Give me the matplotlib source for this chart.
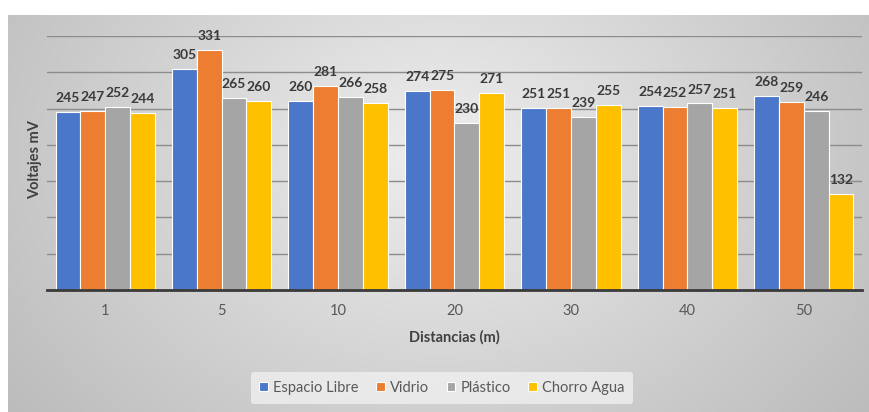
import matplotlib
matplotlib.use("Agg")
import matplotlib.pyplot as plt
import numpy as np

# ── Data ──────────────────────────────────────────────────────────────────────

distancias = ["1", "5", "10", "20", "30", "40", "50"]
series = ["Espacio Libre", "Vidrio", "Plástico", "Chorro Agua"]
espacio_libre = [245, 305, 260, 274, 251, 254, 268]
vidrio        = [247, 331, 281, 275, 251, 252, 259]
plastico      = [252, 265, 266, 230, 239, 257, 246]
chorro_agua   = [244, 260, 258, 271, 255, 251, 132]

colors = ["#4A77C9", "#ED7D31", "#A5A5A5", "#FFC000"]

plt.rcParams["font.family"] = ["Lato", "DejaVu Sans"]

W, H = 870, 412
fig = plt.figure(figsize=(W / 100, H / 100), dpi=100)
fig.patch.set_facecolor("white")

# ── Gradient backdrop ─────────────────────────────────────────────────────────

bg = fig.add_axes([8 / W, 0, (W - 8) / W, (H - 15) / H], zorder=0)
gx, gy = np.meshgrid(np.linspace(0, 1, 400), np.linspace(0, 1, 200))
r = np.sqrt(((gx - 0.5) / 0.5) ** 2 + ((gy - 0.35) / 0.85) ** 2)
shade = np.clip(238 - 40 * r, 180, 240) / 255
bg.imshow(np.dstack([shade] * 3), aspect="auto", extent=[0, 1, 0, 1])
bg.axis("off")

# ── Bars ──────────────────────────────────────────────────────────────────────

ax = fig.add_axes([47 / W, 122 / H, (862 - 47) / W, (290 - 36) / H], zorder=1)
ax.patch.set_alpha(0)

x = np.arange(len(distancias))
width = 0.213
values = [espacio_libre, vidrio, plastico, chorro_agua]
for i, (name, vals, col) in enumerate(zip(series, values, colors)):
    pos = x + (i - 1.5) * width
    ax.bar(pos, vals, width, color=col, edgecolor="white", linewidth=0.8,
           label=name, zorder=2)
    for px, v in zip(pos, vals):
        ax.text(px, v + 11, f"{v}", ha="center", va="bottom",
                fontsize=10, fontweight="bold", color="#3a3a3a", zorder=3)

ax.set_xlim(-0.5, len(distancias) - 0.5)
ax.set_ylim(0, 350)
ax.set_yticks(np.arange(50, 351, 50))
ax.set_yticklabels([])
ax.tick_params(axis="y", length=0)
ax.grid(axis="y", color="#8c8c8c", linewidth=1.0, zorder=0)
ax.set_axisbelow(True)

ax.set_xticks(x)
ax.set_xticklabels(distancias, fontsize=10.5, color="#595959")
ax.tick_params(axis="x", length=0, pad=10)

for side in ["top", "right", "left"]:
    ax.spines[side].set_visible(False)
ax.spines["bottom"].set_color("#3a3a3a")
ax.spines["bottom"].set_linewidth(2)

ax.set_xlabel("Distancias (m)", fontsize=10.5, fontweight="bold",
              color="#404040", labelpad=9)
fig.text(35 / W, 1 - 160 / H, "Voltajes mV", rotation=90, ha="center",
         va="center", fontsize=10.5, fontweight="bold", color="#404040")

leg = fig.legend(loc="center", bbox_to_anchor=(442 / W, 1 - 388 / H), ncol=4,
                 fontsize=10.5, frameon=True, handlelength=0.6,
                 handleheight=0.6, handletextpad=0.35, columnspacing=1.2,
                 borderpad=0.6)
leg.get_frame().set_facecolor("#f4f4f4")
leg.get_frame().set_edgecolor("none")
leg.get_frame().set_alpha(0.7)
for t in leg.get_texts():
    t.set_color("#595959")

fig.savefig("out.png", dpi=100)
